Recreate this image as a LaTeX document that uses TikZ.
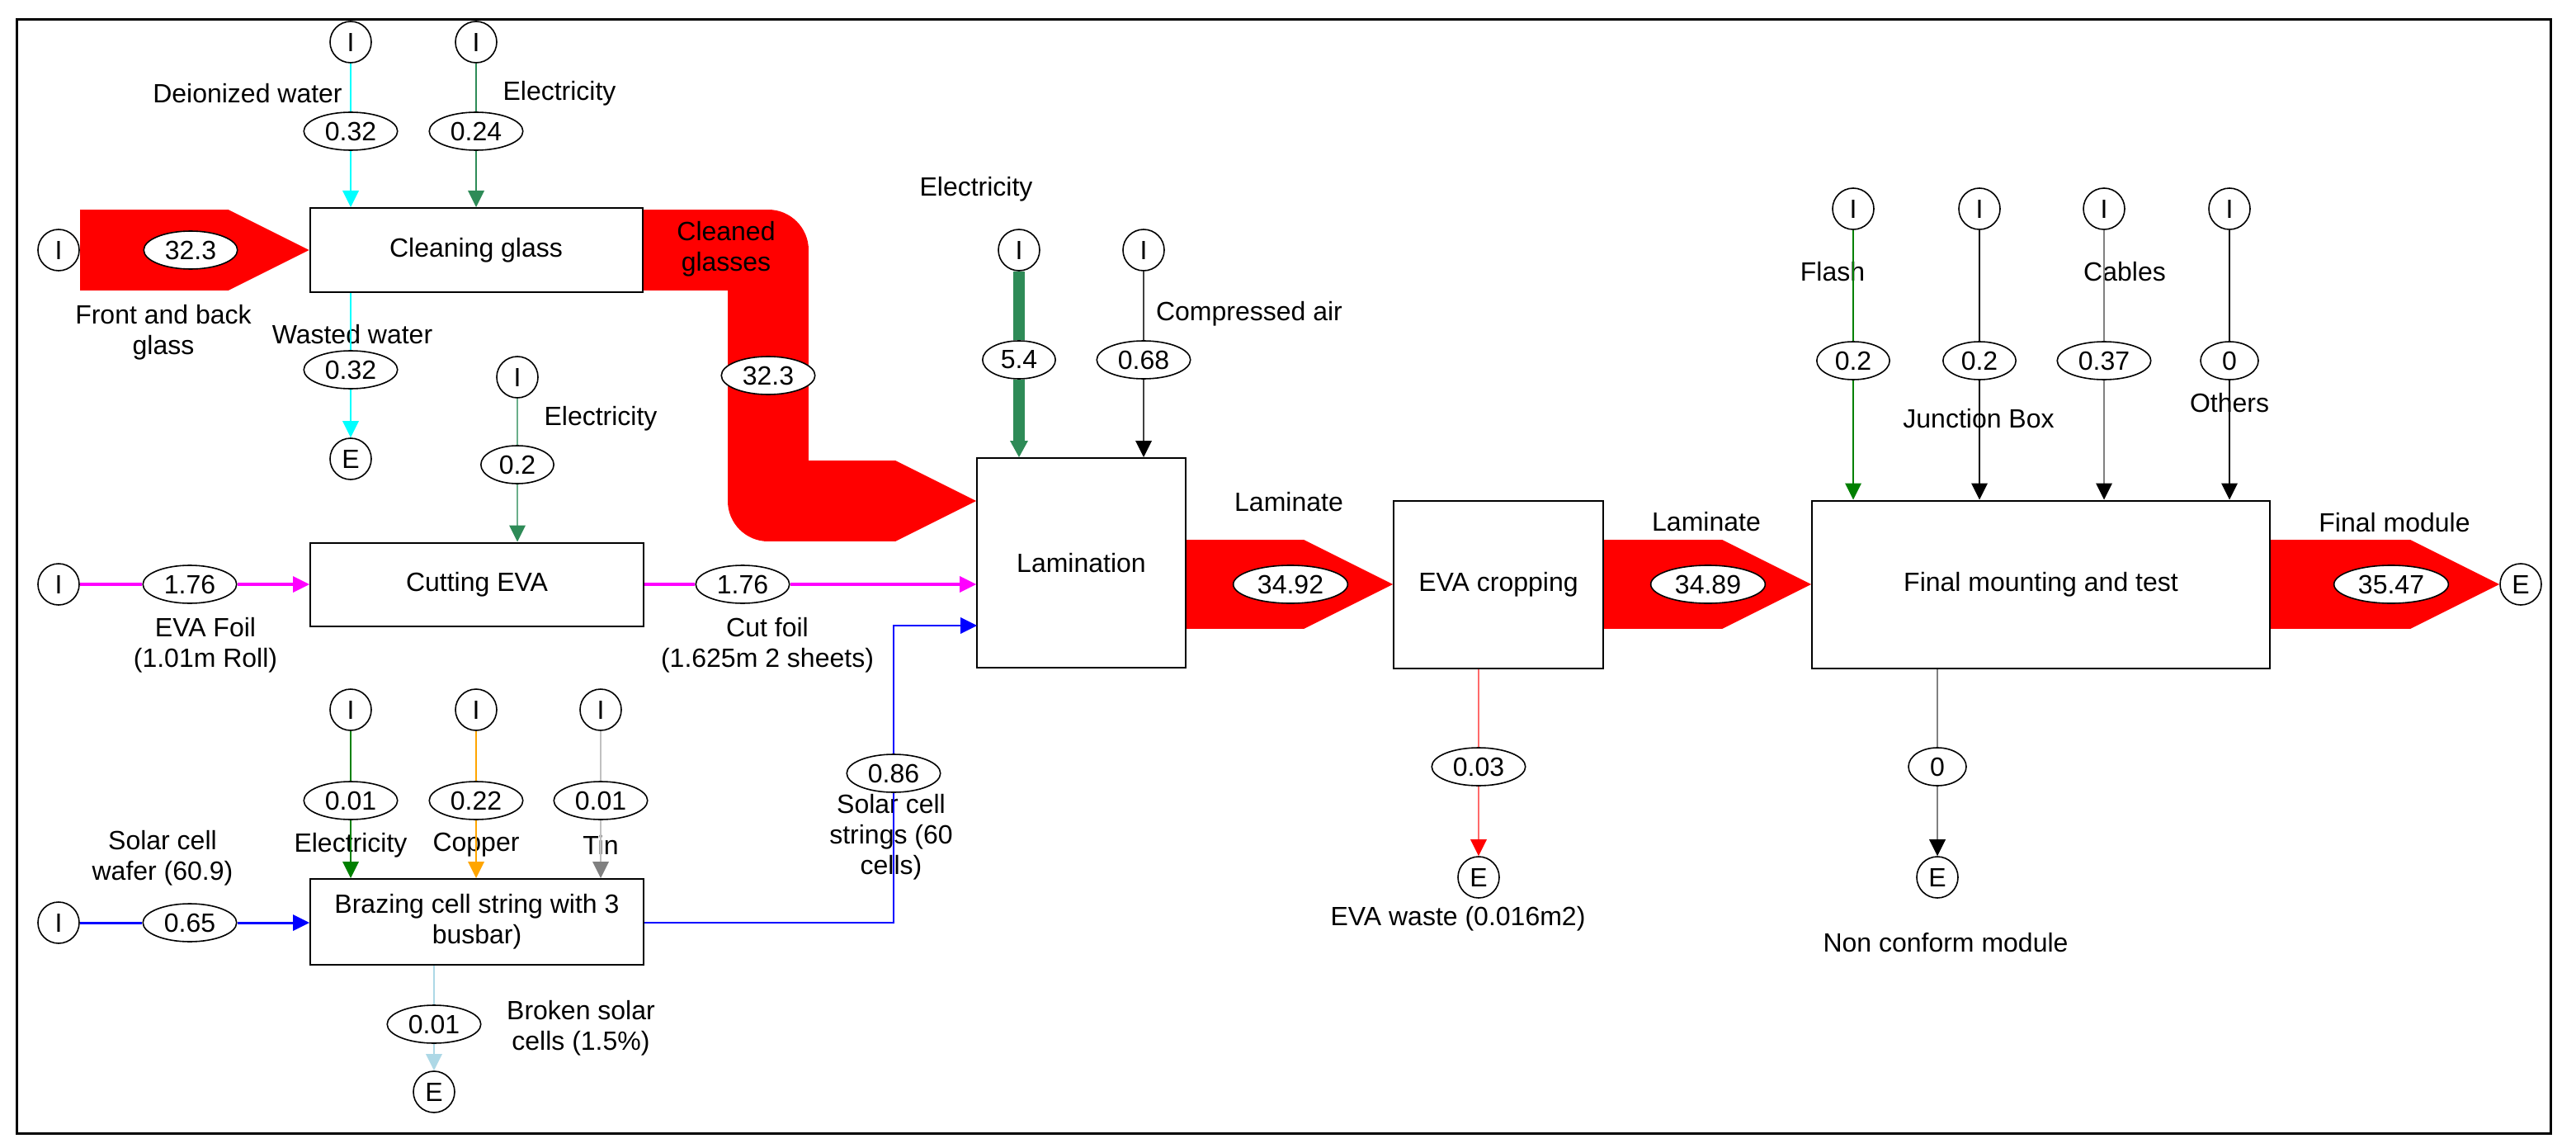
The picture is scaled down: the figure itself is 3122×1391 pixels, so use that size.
\documentclass[tikz,border=0pt]{standalone}
\usepackage{fontspec}
\setmainfont{Liberation Sans}
\usetikzlibrary{arrows.meta,shapes.geometric}

\definecolor{aqua}{HTML}{00FFFF}
\definecolor{fuchsia}{HTML}{FF00FF}
\definecolor{eGreen}{HTML}{2E8B57}
\definecolor{eGreenL}{HTML}{6AAE8A}
\definecolor{dGreen}{HTML}{008000}
\definecolor{orng}{HTML}{FFA500}
\definecolor{lGray}{HTML}{C0C0C0}
\definecolor{lBlue}{HTML}{ADD8E6}
\definecolor{lRed}{HTML}{FF6A6A}

\begin{document}
\begin{tikzpicture}[x=0.5pt, y=-0.5pt,
    every node/.style={font=\fontsize{16}{18.5}\selectfont},
    proc/.style={draw, line width=1pt, align=center},
    src/.style={draw, circle, line width=0.8pt, minimum size=25pt, inner sep=0pt},
    val/.style={draw, ellipse, fill=white, line width=0.8pt, inner xsep=4.5pt, inner ysep=1pt, minimum height=23pt, minimum width=35pt},
    lbl/.style={align=center},
    pipe/.style={line width=0.9pt},
    feed/.style={pipe, -{Triangle[length=10pt, width=10pt, line width=0pt, #1]}},
    feed/.default={},
    bigflow/.style={draw=red, line width=#1, line join=round, -{Triangle[length=#1, width=#1, line width=0pt]}}]
    \useasboundingbox (0,0) rectangle (3122,1391);
    \draw[line width=1.5pt] (20,24) rectangle (3091,1373);

    % process boxes
    \node[proc, minimum width=201.5pt, minimum height=51pt] (clean) at (577,303) {Cleaning glass};
    \node[proc, minimum width=202pt, minimum height=50.5pt] (cut) at (578,708) {Cutting EVA};
    \node[proc, minimum width=202pt, minimum height=52pt] (braz) at (578,1117) {Brazing cell string with 3\\busbar)};
    \node[proc, minimum width=126.5pt, minimum height=127pt] (lam) at (1310.5,682) {Lamination};
    \node[proc, minimum width=127pt, minimum height=101.5pt] (crop) at (1816,708) {EVA cropping};
    \node[proc, minimum width=277.5pt, minimum height=101.5pt] (fin) at (2473.5,708) {Final mounting and test};

    % inputs and outputs
    \node[src] (inW) at (425,51) {I};
    \node[src] (inE1) at (577,51) {I};
    \node[src] (inGlass) at (71,303) {I};
    \node[src] (inE2) at (627,457) {I};
    \node[src] (inEVA) at (71,708) {I};
    \node[src] (inE3) at (425,860) {I};
    \node[src] (inCu) at (577,860) {I};
    \node[src] (inSn) at (728,860) {I};
    \node[src] (inWafer) at (71,1118) {I};
    \node[src] (inE4) at (1235,303) {I};
    \node[src] (inAir) at (1386,303) {I};
    \node[src] (inFlash) at (2246,253) {I};
    \node[src] (inJB) at (2399,253) {I};
    \node[src] (inCab) at (2550,253) {I};
    \node[src] (inOth) at (2702,253) {I};
    \node[src] (outWW) at (425,556) {E};
    \node[src] (outBr) at (526,1323) {E};
    \node[src] (outEW) at (1792,1063) {E};
    \node[src] (outNC) at (2348,1063) {E};
    \node[src] (outFin) at (3055,708) {E};

    % main flows
    \coordinate (bendA) at (931,303);
    \coordinate (bendB) at (931,607);
    \coordinate (lamStr) at (1184,758);
    \draw[bigflow=49pt] (inGlass) -- (clean);
    \draw[bigflow=49pt] (clean.east) -- (bendA) -- (bendB) -- (bendB -| lam.west);
    \draw[bigflow=54pt] (lam.east |- crop.west) -- (crop.west);
    \draw[bigflow=54pt] (crop) -- (fin);
    \draw[bigflow=54pt] (fin) -- (outFin);

    % values
    \node[val] (vW) at (425,159) {0.32};
    \node[val] (vE1) at (577,159) {0.24};
    \node[val] (vGlass) at (231,303) {32.3};
    \node[val] (vClean) at (931,455) {32.3};
    \node[val] (vWW) at (425,448) {0.32};
    \node[val] (vE2) at (627,563) {0.2};
    \node[val] (vEVA) at (230,708) {1.76};
    \node[val] (vCut) at (900,708) {1.76};
    \node[val] (vE3) at (425,970) {0.01};
    \node[val] (vCu) at (577,970) {0.22};
    \node[val] (vSn) at (728,970) {0.01};
    \node[val] (vWafer) at (230,1118) {0.65};
    \node[val] (vStr) at (1083,937) {0.86};
    \node[val] (vBr) at (526,1241) {0.01};
    \node[val] (vE4) at (1235,436) {5.4};
    \node[val] (vAir) at (1386,436) {0.68};
    \node[val] (vLam) at (1564,708) {34.92};
    \node[val] (vEW) at (1792,929) {0.03};
    \node[val] (vCrop) at (2070,708) {34.89};
    \node[val] (vFlash) at (2246,437) {0.2};
    \node[val] (vJB) at (2399,437) {0.2};
    \node[val] (vCab) at (2550,437) {0.37};
    \node[val] (vOth) at (2702,437) {0};
    \node[val] (vNC) at (2348,929) {0};
    \node[val] (vFin) at (2898,708) {35.47};

    % labels
    \node[lbl] (tDW) at (300,113) {Deionized water};
    \node[lbl] (tE1) at (678,113) {Electricity};
    \node[lbl] (tGlass) at (198,403) {Front and back\\glass};
    \node[lbl] (tClean) at (880,302) {Cleaned\\glasses};
    \node[lbl] (tWW) at (427,405) {Wasted water};
    \node[lbl] (tE2) at (728,507) {Electricity};
    \node[lbl] (tEVA) at (249,782) {EVA Foil\\(1.01m Roll)};
    \node[lbl] (tCut) at (930,782) {Cut foil\\(1.625m 2 sheets)};
    \node[lbl] (tE3) at (425,1024) {Electricity};
    \node[lbl] (tCu) at (577,1024) {Copper};
    \node[lbl] (tSn) at (728,1024) {Tin};
    \node[lbl] (tWafer) at (197,1040) {Solar cell\\wafer (60.9)};
    \node[lbl] (tStr) at (1080,1014) {Solar cell\\strings (60\\cells)};
    \node[lbl] (tBr) at (704,1246) {Broken solar\\cells (1.5\%)};
    \node[lbl] (tE4) at (1183,229) {Electricity};
    \node[lbl] (tAir) at (1514,380) {Compressed air};
    \node[lbl] (tLam) at (1562,608) {Laminate};
    \node[lbl] (tEW) at (1767,1113) {EVA waste (0.016m2)};
    \node[lbl] (tCrop) at (2068,632) {Laminate};
    \node[lbl] (tFlash) at (2221,329) {Flash};
    \node[lbl] (tJB) at (2398,507) {Junction Box};
    \node[lbl] (tCab) at (2575,329) {Cables};
    \node[lbl] (tOth) at (2702,488) {Others};
    \node[lbl] (tFin) at (2902,633) {Final module};
    \node[lbl] (tNC) at (2358,1142) {Non conform module};

    % cleaning glass
    \draw[pipe, aqua] (inW) -- (vW);
    \draw[feed, aqua] (vW) -- (vW |- clean.north);
    \draw[pipe, eGreen] (inE1) -- (vE1);
    \draw[feed, eGreen] (vE1) -- (vE1 |- clean.north);
    \draw[pipe, aqua] (clean.south -| vWW) -- (vWW);
    \draw[feed, aqua] (vWW) -- (outWW);
    % cutting EVA
    \draw[pipe, eGreenL] (inE2) -- (vE2);
    \draw[feed={color=eGreen}, eGreenL] (vE2) -- (vE2 |- cut.north);
    \draw[pipe, fuchsia, line width=2pt] (inEVA) -- (vEVA);
    \draw[feed, fuchsia, line width=2pt] (vEVA) -- (cut);
    \draw[pipe, fuchsia, line width=2pt] (cut) -- (vCut);
    \draw[feed, fuchsia, line width=2pt] (vCut) -- (vCut -| lam.west);
    % brazing
    \draw[pipe, dGreen] (inE3) -- (vE3);
    \draw[feed, dGreen] (vE3) -- (vE3 |- braz.north);
    \draw[pipe, orng] (inCu) -- (vCu);
    \draw[feed, orng] (vCu) -- (vCu |- braz.north);
    \draw[pipe, lGray] (inSn) -- (vSn);
    \draw[feed={color=gray}, lGray] (vSn) -- (vSn |- braz.north);
    \draw[pipe, blue, line width=1.5pt] (inWafer) -- (vWafer);
    \draw[feed, blue, line width=1.5pt] (vWafer) -- (vWafer -| braz.west);
    \draw[pipe, blue] (braz.east |- vWafer) -| (vStr);
    \draw[feed, blue] (vStr) |- (lamStr);
    \draw[pipe, lBlue] (braz.south -| vBr) -- (vBr);
    \draw[feed, lBlue] (vBr) -- (outBr);
    % lamination
    \draw[eGreen, line width=7pt] (inE4) -- (vE4);
    \draw[eGreen, line width=7pt, -{Triangle[length=10pt, width=11pt, line width=0pt]}] (vE4) -- (vE4 |- lam.north);
    \draw[pipe, black!75] (inAir) -- (vAir);
    \draw[feed={color=black}, black!75] (vAir) -- (vAir |- lam.north);
    % EVA cropping
    \draw[pipe, lRed] (crop.south -| vEW) -- (vEW);
    \draw[feed={color=red}, lRed] (vEW) -- (outEW);
    % final mounting
    \draw[pipe, dGreen] (inFlash) -- (vFlash);
    \draw[feed, dGreen] (vFlash) -- (vFlash |- fin.north);
    \draw[pipe] (inJB) -- (vJB);
    \draw[feed] (vJB) -- (vJB |- fin.north);
    \draw[pipe, gray] (inCab) -- (vCab);
    \draw[feed={color=black}, gray] (vCab) -- (vCab |- fin.north);
    \draw[pipe] (inOth) -- (vOth);
    \draw[feed] (vOth) -- (vOth |- fin.north);
    \draw[pipe, gray] (fin.south -| vNC) -- (vNC);
    \draw[feed={color=black}, gray] (vNC) -- (outNC);
\end{tikzpicture}
\end{document}
